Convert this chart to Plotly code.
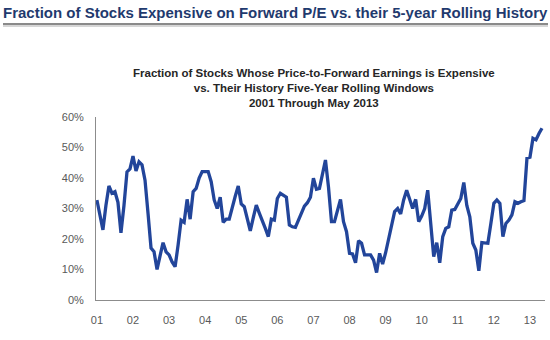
import plotly.graph_objects as go

year_labels = ["01", "02", "03", "04", "05", "06", "07", "08", "09", "10", "11", "12", "13"]

# Monthly values, Jan 2001 .. May 2013 (%)
values = [
    # 2001
    32.8, 28.0, 23.0, 31.0, 37.4, 35.0, 35.5, 32.0, 22.0, 31.0, 42.0, 43.0,
    # 2002
    47.2, 42.3, 45.3, 44.3, 39.3, 28.4, 17.0, 15.8, 10.0, 14.5, 18.8, 15.8,
    # 2003
    14.8, 12.5, 10.9, 18.0, 26.2, 25.5, 33.0, 26.5, 35.5, 36.6, 40.0, 42.1,
    # 2004
    42.1, 42.1, 38.8, 32.8, 30.0, 33.7, 25.5, 26.5, 26.5, 30.6, 34.0, 37.4,
    # 2005
    31.5, 30.6, 26.5, 22.7, 27.0, 31.1, 28.5, 26.2, 23.5, 20.8, 26.5, 26.2,
    # 2006
    33.3, 35.0, 34.5, 33.7, 24.6, 24.0, 23.8, 26.2, 28.5, 30.8, 31.9, 33.7,
    # 2007
    39.9, 36.3, 36.6, 41.0, 45.9, 37.1, 25.7, 25.7, 29.0, 33.0, 25.7, 22.4,
    # 2008
    15.3, 15.1, 12.2, 19.4, 18.6, 14.8, 14.8, 14.8, 13.1, 9.0, 15.3, 11.8,
    # 2009
    15.5, 19.7, 25.0, 29.0, 30.0, 28.2, 32.8, 36.0, 33.0, 30.0, 33.0, 25.7,
    # 2010
    27.5, 30.0, 36.0, 25.0, 14.2, 18.8, 12.2, 20.8, 23.5, 24.0, 29.5, 29.7,
    # 2011
    31.5, 33.3, 38.5, 31.0, 27.3, 18.6, 16.4, 9.6, 18.8, 18.6, 18.6, 25.1,
    # 2012
    31.7, 32.8, 31.7, 20.8, 25.1, 26.2, 27.9, 32.2, 31.7, 32.2, 32.6, 46.5,
    # 2013
    46.8, 53.0, 52.5, 54.6, 56.3,
]
months = list(range(len(values)))
tick_pos = [12 * i for i in range(len(year_labels))]

y_ticks = [0, 10, 20, 30, 40, 50, 60]
y_labels = ["0%", "10%", "20%", "30%", "40%", "50%", "60%"]

main_title = "Fraction of Stocks Expensive on Forward P/E vs. their 5-year Rolling History"
sub_title = ("Fraction of Stocks Whose Price-to-Forward Earnings is Expensive<br>"
             "vs. Their History Five-Year Rolling Windows<br>"
             "2001 Through May 2013")

W, H = 550, 340
L, R, T, B = 96, 5, 117, 40
ph = H - T - B

def py(p):
    return (H - B - p) / ph

def px(p):
    return (p - L) / (W - L - R)

fig = go.Figure()
fig.add_trace(go.Scatter(
    x=months, y=values, mode="lines",
    line=dict(color="#22459a", width=3.3),
    hoverinfo="skip",
))

fig.update_layout(
    width=W, height=H,
    margin=dict(l=L, r=R, t=T, b=B),
    paper_bgcolor="white", plot_bgcolor="white",
    showlegend=False,
    font=dict(family="Liberation Sans, Arial, sans-serif", color="#595959", size=11),
    xaxis=dict(
        range=[-0.3, 149], tickvals=tick_pos, ticktext=year_labels,
        showgrid=False, zeroline=False, showline=True, linecolor="#8c8c8c", linewidth=1,
        ticks="", ticklabelstandoff=10, tickfont=dict(size=11, color="#595959"),
    ),
    yaxis=dict(
        range=[0, 60], tickvals=y_ticks, ticktext=y_labels,
        showgrid=False, zeroline=False, showline=True, linecolor="#8c8c8c", linewidth=1,
        ticks="", ticklabelstandoff=9, tickfont=dict(size=11, color="#595959"),
    ),
    annotations=[
        dict(text="<b>" + main_title + "</b>", x=px(275), y=py(12), xref="paper", yref="paper",
             xanchor="center", yanchor="middle", showarrow=False,
             font=dict(size=15, color="#1f3a6e", family="Liberation Sans, Arial, sans-serif")),
        dict(text="<b>" + sub_title + "</b>", x=px(314), y=py(88), xref="paper", yref="paper",
             xanchor="center", yanchor="middle", showarrow=False, align="center",
             font=dict(size=11.5, color="#262626", family="Liberation Sans, Arial, sans-serif")),
    ],
    shapes=[
        dict(type="line", xref="paper", yref="paper", x0=px(3), x1=px(548), y0=py(24), y1=py(24),
             line=dict(color="#8a8a8a", width=2)),
        dict(type="line", xref="paper", yref="paper", x0=px(3), x1=px(548), y0=py(26), y1=py(26),
             line=dict(color="#c8c8c8", width=1.5)),
    ],
)

fig.write_html("out.html")
